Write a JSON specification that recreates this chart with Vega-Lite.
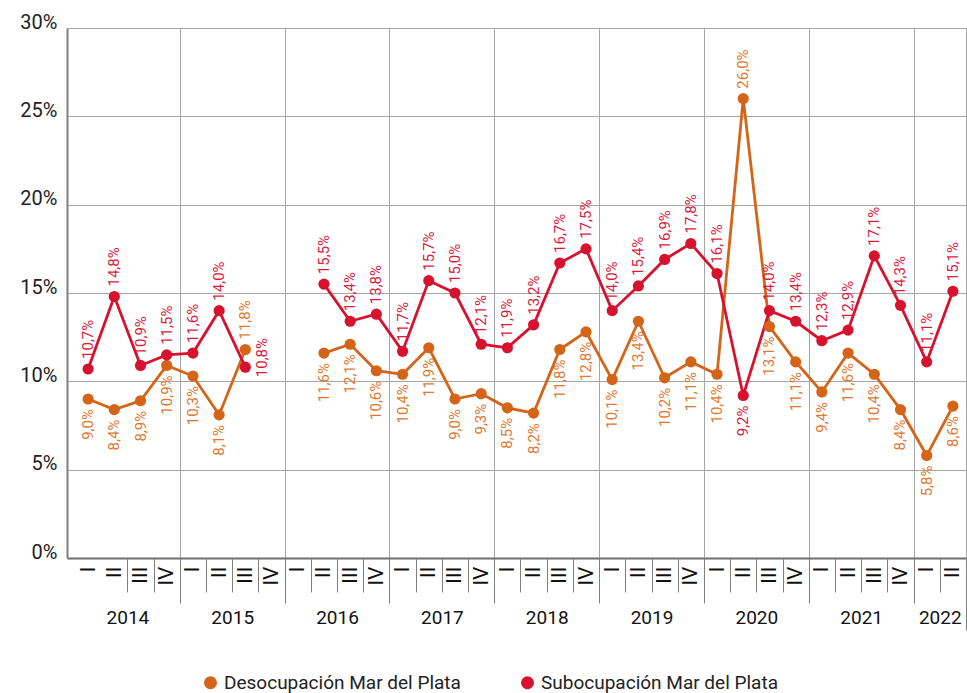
{
  "$schema": "https://vega.github.io/schema/vega-lite/v6.json",
  "autosize": {"type": "none"},
  "padding": {"left": 67, "top": 28, "right": 1, "bottom": 135},
  "width": 899,
  "height": 530,
  "background": "white",
  "config": {
    "view": {"stroke": null},
    "font": "Roboto",
    "locale": {"number": {"decimal": ",", "thousands": ".", "grouping": [3], "currency": ["$", ""]}},
    "axisY": {
      "grid": true, "gridColor": "#a6a6a6", "gridWidth": 1,
      "domain": true, "domainColor": "#7f7f7f", "domainWidth": 2,
      "ticks": false, "labelFontSize": 20, "labelColor": "#222222",
      "labelPadding": 10, "labelBaseline": "alphabetic", "title": null,
      "labelFont": "Roboto"
    },
    "axisX": {"title": null, "grid": false, "labelFont": "Roboto"}
  },
  "data": {
    "values": [
      {"q": "2014-I", "serie": "Desocupación Mar del Plata", "value": 0.090},
      {"q": "2014-II", "serie": "Desocupación Mar del Plata", "value": 0.084},
      {"q": "2014-III", "serie": "Desocupación Mar del Plata", "value": 0.089},
      {"q": "2014-IV", "serie": "Desocupación Mar del Plata", "value": 0.109},
      {"q": "2015-I", "serie": "Desocupación Mar del Plata", "value": 0.103},
      {"q": "2015-II", "serie": "Desocupación Mar del Plata", "value": 0.081},
      {"q": "2015-III", "serie": "Desocupación Mar del Plata", "value": 0.118},
      {"q": "2015-IV", "serie": "Desocupación Mar del Plata", "value": null},
      {"q": "2016-I", "serie": "Desocupación Mar del Plata", "value": null},
      {"q": "2016-II", "serie": "Desocupación Mar del Plata", "value": 0.116},
      {"q": "2016-III", "serie": "Desocupación Mar del Plata", "value": 0.121},
      {"q": "2016-IV", "serie": "Desocupación Mar del Plata", "value": 0.106},
      {"q": "2017-I", "serie": "Desocupación Mar del Plata", "value": 0.104},
      {"q": "2017-II", "serie": "Desocupación Mar del Plata", "value": 0.119},
      {"q": "2017-III", "serie": "Desocupación Mar del Plata", "value": 0.090},
      {"q": "2017-IV", "serie": "Desocupación Mar del Plata", "value": 0.093},
      {"q": "2018-I", "serie": "Desocupación Mar del Plata", "value": 0.085},
      {"q": "2018-II", "serie": "Desocupación Mar del Plata", "value": 0.082},
      {"q": "2018-III", "serie": "Desocupación Mar del Plata", "value": 0.118},
      {"q": "2018-IV", "serie": "Desocupación Mar del Plata", "value": 0.128},
      {"q": "2019-I", "serie": "Desocupación Mar del Plata", "value": 0.101},
      {"q": "2019-II", "serie": "Desocupación Mar del Plata", "value": 0.134},
      {"q": "2019-III", "serie": "Desocupación Mar del Plata", "value": 0.102},
      {"q": "2019-IV", "serie": "Desocupación Mar del Plata", "value": 0.111},
      {"q": "2020-I", "serie": "Desocupación Mar del Plata", "value": 0.104},
      {"q": "2020-II", "serie": "Desocupación Mar del Plata", "value": 0.260},
      {"q": "2020-III", "serie": "Desocupación Mar del Plata", "value": 0.131},
      {"q": "2020-IV", "serie": "Desocupación Mar del Plata", "value": 0.111},
      {"q": "2021-I", "serie": "Desocupación Mar del Plata", "value": 0.094},
      {"q": "2021-II", "serie": "Desocupación Mar del Plata", "value": 0.116},
      {"q": "2021-III", "serie": "Desocupación Mar del Plata", "value": 0.104},
      {"q": "2021-IV", "serie": "Desocupación Mar del Plata", "value": 0.084},
      {"q": "2022-I", "serie": "Desocupación Mar del Plata", "value": 0.058},
      {"q": "2022-II", "serie": "Desocupación Mar del Plata", "value": 0.086},
      {"q": "2014-I", "serie": "Subocupación Mar del Plata", "value": 0.107},
      {"q": "2014-II", "serie": "Subocupación Mar del Plata", "value": 0.148},
      {"q": "2014-III", "serie": "Subocupación Mar del Plata", "value": 0.109},
      {"q": "2014-IV", "serie": "Subocupación Mar del Plata", "value": 0.115},
      {"q": "2015-I", "serie": "Subocupación Mar del Plata", "value": 0.116},
      {"q": "2015-II", "serie": "Subocupación Mar del Plata", "value": 0.140},
      {"q": "2015-III", "serie": "Subocupación Mar del Plata", "value": 0.108},
      {"q": "2015-IV", "serie": "Subocupación Mar del Plata", "value": null},
      {"q": "2016-I", "serie": "Subocupación Mar del Plata", "value": null},
      {"q": "2016-II", "serie": "Subocupación Mar del Plata", "value": 0.155},
      {"q": "2016-III", "serie": "Subocupación Mar del Plata", "value": 0.134},
      {"q": "2016-IV", "serie": "Subocupación Mar del Plata", "value": 0.138},
      {"q": "2017-I", "serie": "Subocupación Mar del Plata", "value": 0.117},
      {"q": "2017-II", "serie": "Subocupación Mar del Plata", "value": 0.157},
      {"q": "2017-III", "serie": "Subocupación Mar del Plata", "value": 0.150},
      {"q": "2017-IV", "serie": "Subocupación Mar del Plata", "value": 0.121},
      {"q": "2018-I", "serie": "Subocupación Mar del Plata", "value": 0.119},
      {"q": "2018-II", "serie": "Subocupación Mar del Plata", "value": 0.132},
      {"q": "2018-III", "serie": "Subocupación Mar del Plata", "value": 0.167},
      {"q": "2018-IV", "serie": "Subocupación Mar del Plata", "value": 0.175},
      {"q": "2019-I", "serie": "Subocupación Mar del Plata", "value": 0.140},
      {"q": "2019-II", "serie": "Subocupación Mar del Plata", "value": 0.154},
      {"q": "2019-III", "serie": "Subocupación Mar del Plata", "value": 0.169},
      {"q": "2019-IV", "serie": "Subocupación Mar del Plata", "value": 0.178},
      {"q": "2020-I", "serie": "Subocupación Mar del Plata", "value": 0.161},
      {"q": "2020-II", "serie": "Subocupación Mar del Plata", "value": 0.092},
      {"q": "2020-III", "serie": "Subocupación Mar del Plata", "value": 0.140},
      {"q": "2020-IV", "serie": "Subocupación Mar del Plata", "value": 0.134},
      {"q": "2021-I", "serie": "Subocupación Mar del Plata", "value": 0.123},
      {"q": "2021-II", "serie": "Subocupación Mar del Plata", "value": 0.129},
      {"q": "2021-III", "serie": "Subocupación Mar del Plata", "value": 0.171},
      {"q": "2021-IV", "serie": "Subocupación Mar del Plata", "value": 0.143},
      {"q": "2022-I", "serie": "Subocupación Mar del Plata", "value": 0.111},
      {"q": "2022-II", "serie": "Subocupación Mar del Plata", "value": 0.151}
    ]
  },
  "transform": [
    {"window": [{"op": "row_number", "as": "idx"}], "groupby": ["serie"], "sort": [{"field": "q", "order": "ascending"}]}
  ],
  "resolve": {
    "scale": {"x": "shared", "color": "independent"},
    "axis": {"x": "independent"},
    "legend": {"color": "independent"}
  },
  "layer": [
    {
      "mark": {"type": "line", "strokeWidth": 2.8, "invalid": "break-paths-show-domains"},
      "encoding": {
        "x": {
          "field": "idx", "type": "quantitative",
          "scale": {"domain": [0.195, 34.5], "nice": false, "zero": false},
          "axis": {
            "orient": "bottom", "values": [1,2,3,4,5,6,7,8,9,10,11,12,13,14,15,16,17,18,19,20,21,22,23,24,25,26,27,28,29,30,31,32,33,34],
            "ticks": false, "tickSize": 0,
            "domain": true, "domainColor": "#6f6f6f", "domainWidth": 2,
            "labelExpr": "['I','II','III','IV'][(datum.value - 1) % 4]", "labelAngle": 270,
            "labelFontSize": 21, "labelColor": "#111111", "labelPadding": 8,
            "labelOverlap": false, "labelFlush": false, "grid": false
          }
        },
        "y": {
          "field": "value", "type": "quantitative",
          "scale": {"domain": [0, 0.3]},
          "axis": {"values": [0, 0.05, 0.1, 0.15, 0.2, 0.25, 0.3], "format": ".0%"}
        },
        "color": {
          "field": "serie", "type": "nominal",
          "scale": {"domain": ["Desocupación Mar del Plata", "Subocupación Mar del Plata"], "range": ["#d46418", "#d6122e"]},
          "legend": null
        }
      }
    },
    {
      "transform": [{"filter": "datum.value != null"}],
      "mark": {"type": "circle", "size": 125, "opacity": 1},
      "encoding": {
        "x": {
          "field": "idx", "type": "quantitative",
          "axis": {
            "orient": "bottom", "values": [2.5, 6.5, 10.5, 14.5, 18.5, 22.5, 26.5, 30.5, 33.5],
            "ticks": false, "domain": false,
            "labelExpr": "'' + (2014 + floor((datum.value - 1) / 4))",
            "labelAngle": 0, "labelFontSize": 19, "labelColor": "#111111",
            "labelPadding": 50, "labelOverlap": false, "labelFlush": false, "grid": false
          }
        },
        "y": {"field": "value", "type": "quantitative"},
        "color": {
          "field": "serie", "type": "nominal",
          "scale": {"domain": ["Desocupación Mar del Plata", "Subocupación Mar del Plata"], "range": ["#d46418", "#d6122e"]},
          "legend": {
            "title": null, "orient": "none", "legendX": 134, "legendY": 645,
            "direction": "horizontal", "columns": 2, "columnPadding": 57,
            "symbolType": "circle", "symbolSize": 170, "symbolStrokeWidth": 0,
            "labelFontSize": 19, "labelColor": "#222222", "labelFont": "Roboto",
            "labelOffset": 4, "labelLimit": 400
          }
        }
      }
    },
    {
      "transform": [
        {"filter": "datum.value != null"},
        {"joinaggregate": [{"op": "max", "field": "value", "as": "maxv"}], "groupby": ["q"]},
        {"filter": "datum.value == datum.maxv"}
      ],
      "mark": {"type": "text", "angle": 270, "align": "left", "baseline": "middle", "dx": 10, "fontSize": 15, "font": "Roboto"},
      "encoding": {
        "x": {
          "field": "idx", "type": "quantitative",
          "axis": {
            "orient": "bottom", "values": [4.5, 8.5, 12.5, 16.5, 20.5, 24.5, 28.5, 32.5],
            "labels": false, "domain": false,
            "ticks": true, "tickSize": 45, "tickColor": "#7f7f7f", "tickWidth": 1,
            "grid": true, "gridColor": "#a6a6a6", "gridWidth": 1
          }
        },
        "y": {"field": "value", "type": "quantitative"},
        "text": {"field": "value", "type": "quantitative", "format": ".1%"},
        "color": {
          "field": "serie", "type": "nominal",
          "scale": {"domain": ["Desocupación Mar del Plata", "Subocupación Mar del Plata"], "range": ["#e0782f", "#dc1a3a"]},
          "legend": null
        }
      }
    },
    {
      "transform": [
        {"filter": "datum.value != null"},
        {"joinaggregate": [{"op": "min", "field": "value", "as": "minv"}], "groupby": ["q"]},
        {"filter": "datum.value == datum.minv && datum.q != '2015-III'"}
      ],
      "mark": {"type": "text", "angle": 270, "align": "right", "baseline": "middle", "dx": -10, "fontSize": 15, "font": "Roboto"},
      "encoding": {
        "x": {
          "field": "idx", "type": "quantitative",
          "axis": {
            "orient": "bottom",
            "values": [2.5, 3.5, 5.5, 6.5, 7.5, 9.5, 10.5, 11.5, 13.5, 14.5, 15.5, 17.5, 18.5, 19.5, 21.5, 22.5, 23.5, 25.5, 26.5, 27.5, 29.5, 30.5, 31.5, 33.5],
            "labels": false, "domain": false,
            "ticks": true, "tickSize": 34, "tickColor": "#7f7f7f", "tickWidth": 1,
            "grid": false
          }
        },
        "y": {"field": "value", "type": "quantitative"},
        "text": {"field": "value", "type": "quantitative", "format": ".1%"},
        "color": {
          "field": "serie", "type": "nominal",
          "scale": {"domain": ["Desocupación Mar del Plata", "Subocupación Mar del Plata"], "range": ["#e0782f", "#dc1a3a"]},
          "legend": null
        }
      }
    },
    {
      "transform": [
        {"filter": "datum.value != null"},
        {"joinaggregate": [{"op": "min", "field": "value", "as": "minv"}], "groupby": ["q"]},
        {"filter": "datum.value == datum.minv && datum.q == '2015-III'"}
      ],
      "mark": {"type": "text", "angle": 270, "align": "left", "baseline": "middle", "dx": -10, "dy": 17, "fontSize": 15, "font": "Roboto"},
      "encoding": {
        "x": {
          "field": "idx", "type": "quantitative",
          "axis": {
            "orient": "bottom", "values": [34.5],
            "labels": false, "domain": false,
            "ticks": true, "tickSize": 72, "tickColor": "#7f7f7f", "tickWidth": 1,
            "grid": true, "gridColor": "#a6a6a6", "gridWidth": 1
          }
        },
        "y": {"field": "value", "type": "quantitative"},
        "text": {"field": "value", "type": "quantitative", "format": ".1%"},
        "color": {
          "field": "serie", "type": "nominal",
          "scale": {"domain": ["Desocupación Mar del Plata", "Subocupación Mar del Plata"], "range": ["#e0782f", "#dc1a3a"]},
          "legend": null
        }
      }
    }
  ]
}
